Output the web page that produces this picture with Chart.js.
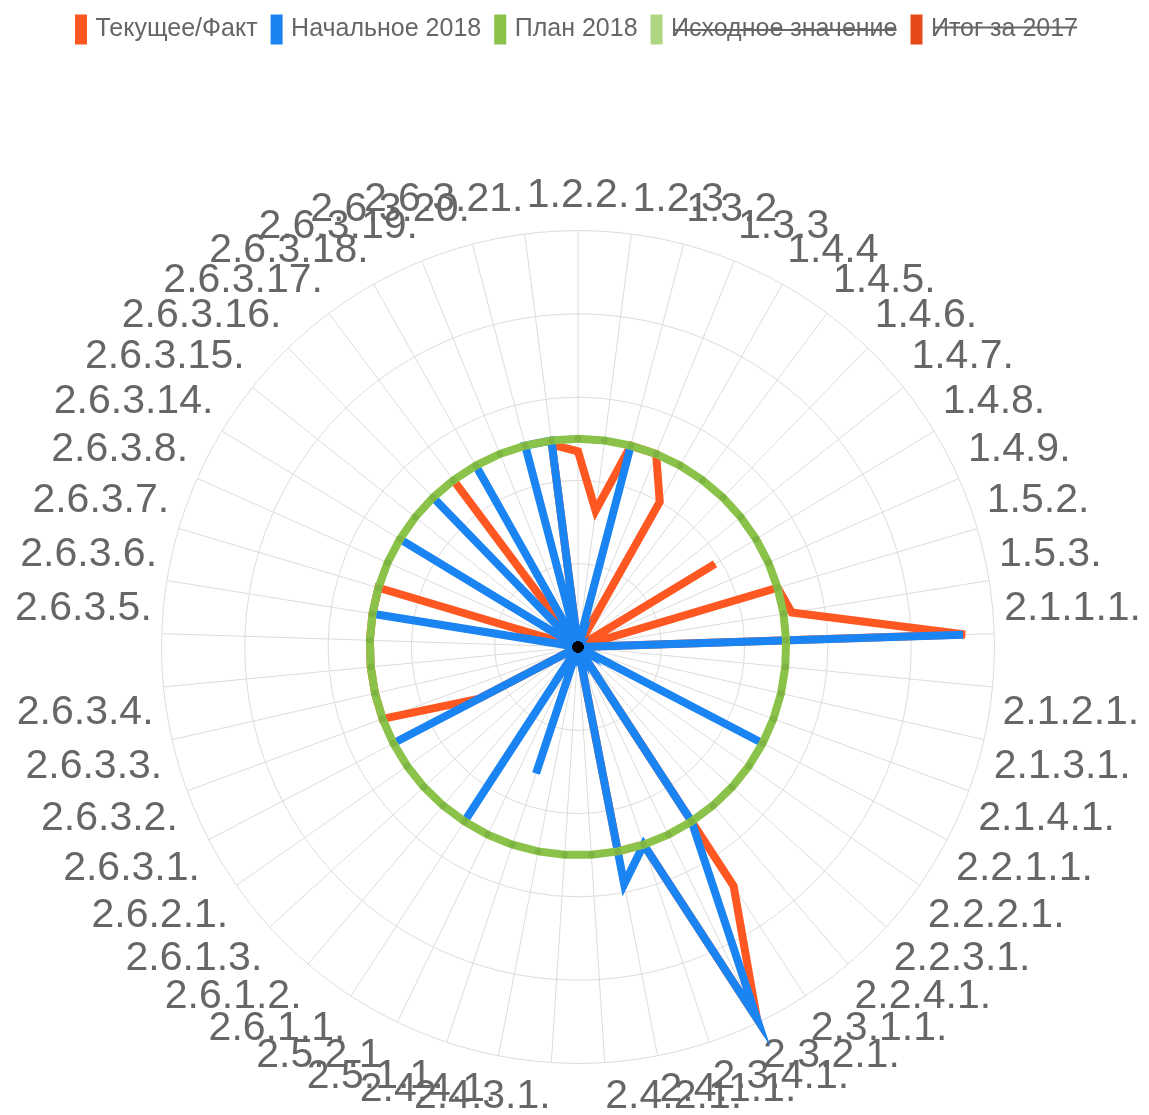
<!DOCTYPE html>
<html lang="ru">
<head>
<meta charset="utf-8">
<title>Радар показателей</title>
<script src="https://cdn.jsdelivr.net/npm/chart.js@4.4.0/dist/chart.umd.min.js"></script>
<style>
  html, body { margin: 0; padding: 0; overflow: hidden; background: #fff; }
  #wrap { width: 1149px; height: 1242px; position: relative; }
</style>
</head>
<body>
<div id="wrap"><canvas id="radar"></canvas></div>
<script>
// labels go clockwise from the top
const labels = [
  "1.2.2.", "1.2.3", "1.3.2", "1.3.3", "1.4.4", "1.4.5.", "1.4.6.", "1.4.7.", "1.4.8.", "1.4.9.",
  "1.5.2.", "1.5.3.", "2.1.1.1.", "2.1.2.1.", "2.1.3.1.", "2.1.4.1.", "2.2.1.1.", "2.2.2.1.", "2.2.3.1.", "2.2.4.1.",
  "2.3.1.1.", "2.3.2.1.", "2.3.4.1.", "2.4.1.1.", "2.4.2.1.", "2.4.3.1.", "2.4.4.1.", "2.5.1.1.", "2.5.2.1.", "2.6.1.1.",
  "2.6.1.2.", "2.6.1.3.", "2.6.2.1.", "2.6.3.1.", "2.6.3.2.", "2.6.3.3.", "2.6.3.4.", "2.6.3.5.", "2.6.3.6.", "2.6.3.7.",
  "2.6.3.8.", "2.6.3.14.", "2.6.3.15.", "2.6.3.16.", "2.6.3.17.", "2.6.3.18.", "2.6.3.19.", "2.6.3.20.", "2.6.3.21."
];

// Текущее/Факт
const factValues = [
  94, 66, 100, 100, 80, 0, 0, 0, 77, 0,
  100, 104, 186, 0, 0, 0, 0, 0, 0, 0,
  137, 198, 100, 100, 0, 0, 0, 0, 0, 0,
  0, 0, 0, 54, 100, 100, 100, 100, 100, 100,
  0, 0, 0, 0, 100, 0, 0, 0, 98
];

// Начальное 2018
const initialValues = [
  0, 0, 100, 0, 0, 0, 0, 0, 0, 0,
  0, 0, 185, 0, 0, 0, 100, 0, 0, 0,
  100, 198, 100, 116, 0, 0, 0, 64, 0, 100,
  0, 0, 0, 100, 0, 0, 0, 0, 100, 0,
  0, 100, 0, 100, 0, 100, 0, 100, 100
];

// План 2018
const planValues = [
  100, 100, 100, 100, 100, 100, 100, 100, 100, 100,
  100, 100, 100, 100, 100, 100, 100, 100, 100, 100,
  100, 100, 100, 100, 100, 100, 100, 100, 100, 100,
  100, 100, 100, 100, 100, 100, 100, 100, 100, 100,
  100, 100, 100, 100, 100, 100, 100, 100, 100
];

// hidden in the legend (struck through), nothing to draw
const baseValues = [];
const total2017Values = [];

const ORANGE = "#ff5722";
const BLUE = "#1a84f2";
const GREEN = "#8bc34a";

const ctx = document.getElementById("radar");
new Chart(ctx, {
  type: "radar",
  data: {
    labels,
    datasets: [
      {
        label: "Текущее/Факт",
        data: factValues,
        borderColor: ORANGE,
        backgroundColor: ORANGE,
        borderWidth: 8,
        fill: false,
        pointRadius: 0,
        order: 2,
      },
      {
        label: "Начальное 2018",
        data: initialValues,
        borderColor: BLUE,
        backgroundColor: BLUE,
        borderWidth: 8,
        fill: false,
        // zero points all sit in the centre -> the black dot
        pointRadius: (c) => (c.raw === 0 ? 5 : 0),
        pointBackgroundColor: "#000",
        pointBorderColor: "#000",
        pointBorderWidth: 1,
        order: 1,
      },
      {
        label: "План 2018",
        data: planValues,
        borderColor: GREEN,
        backgroundColor: GREEN,
        borderWidth: 8,
        fill: false,
        pointRadius: 3,
        pointBackgroundColor: "#7cb342",
        pointBorderColor: "#7cb342",
        pointBorderWidth: 1,
        order: 0,
      },
      {
        label: "Исходное значение",
        data: baseValues,
        borderColor: "#aed581",
        backgroundColor: "#aed581",
        borderWidth: 8,
        hidden: true,
        order: 3,
      },
      {
        label: "Итог за 2017",
        data: total2017Values,
        borderColor: "#e64a19",
        backgroundColor: "#e64a19",
        borderWidth: 8,
        hidden: true,
        order: 4,
      },
    ],
  },
  options: {
    responsive: true,
    maintainAspectRatio: false,
    animation: false,
    layout: { padding: { left: 15, right: 7 } },
    elements: { line: { tension: 0 } },
    plugins: {
      legend: {
        position: "top",
        labels: {
          boxWidth: 4,
          boxHeight: 22,
          padding: 17,
          color: "#666",
          font: { family: "'Liberation Sans', Arial, sans-serif", size: 25 },
          sort: (a, b) => a.datasetIndex - b.datasetIndex,
        },
      },
      tooltip: { enabled: false },
    },
    scales: {
      r: {
        min: 0,
        max: 200,
        ticks: { display: false, stepSize: 40 },
        grid: { circular: true, color: "#dcdcdc" },
        angleLines: { color: "#dcdcdc" },
        pointLabels: {
          color: "#666",
          padding: 10,
          font: { family: "'Liberation Sans', Arial, sans-serif", size: 41 },
        },
      },
    },
  },
});
</script>
</body>
</html>
